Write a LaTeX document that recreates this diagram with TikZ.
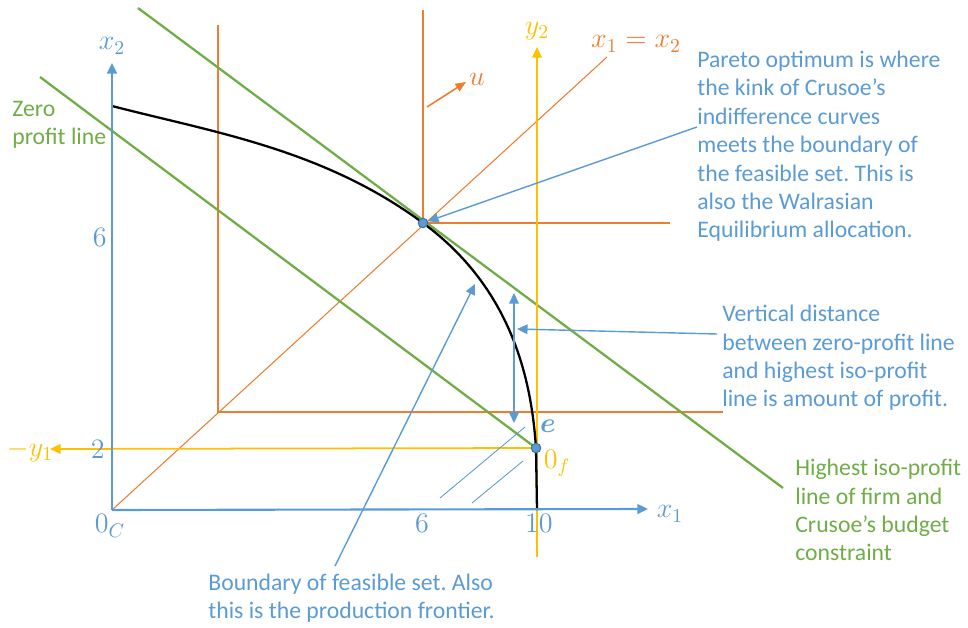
\RequirePackage{fix-cm}
\documentclass[tikz,border=0pt]{standalone}
\usepackage{amsmath}
\usepackage{fontspec}
\setmainfont{Carlito}
\usetikzlibrary{arrows.meta}
\definecolor{cblue}{HTML}{5B9BD5}
\definecolor{cbluedark}{HTML}{41719C}
\definecolor{corange}{HTML}{ED7D31}
\definecolor{cgreen}{HTML}{70AD47}
\definecolor{cyellow}{HTML}{FFC000}
\frenchspacing
\tikzset{
  axis/.style={cblue, line width=1.2pt, -{Triangle[width=5.5pt,length=6pt]}},
  yaxis/.style={cyellow, line width=1pt, -{Triangle[width=5.5pt,length=6pt]}},
  oline/.style={corange, line width=1.5pt},
  othin/.style={corange, line width=0.6pt},
  gline/.style={cgreen, line width=1.3pt},
  annot/.style={cblue, line width=0.8pt, -{Triangle[width=5.5pt,length=6pt]}},
  hatch/.style={cblue, line width=0.5pt},
  dot/.style={circle, fill=cblue, draw=cbluedark, line width=0.6pt, minimum size=5.4pt, inner sep=0pt},
  txt/.style={inner sep=0pt, anchor=base west, align=left, font=\fontsize{13.5}{16.2}\selectfont\frenchspacing},
  lbl/.style={inner sep=0pt, font=\fontsize{16}{19}\selectfont}
}
\begin{document}
\begin{tikzpicture}[x=0.02cm,y=-0.02cm]
\useasboundingbox (0,0) rectangle (968,628);
% key coordinates
\coordinate (O) at (112,510);
\coordinate (x2tip) at (112,63);
\coordinate (x1tip) at (648,509);
\coordinate (P) at (423,223);
\coordinate (E) at (536,448);
\coordinate (y2bot) at (537,557);
\coordinate (y2tip) at (537,47);
\coordinate (y1tip) at (50,449);
% orange indifference curves
\coordinate (oa1) at (218,25);
\coordinate (oa2) at (218,412);
\coordinate (oa3) at (723,412);
\coordinate (ob1) at (423,10);
\coordinate (ob3) at (670,223);
\draw[oline] (oa1) -- (oa2) -- (oa3);
\draw[oline] (ob1) -- (P) -- (ob3);
\coordinate (diagend) at (607,57);
\draw[othin] (O) -- (diagend);
\coordinate (ua) at (427,107);
\coordinate (ub) at (466,82);
\draw[corange, line width=0.9pt, -{Triangle[width=5pt,length=6pt]}] (ua) -- (ub);
% green lines
\coordinate (ga) at (138,8);
\coordinate (gb) at (783,488);
\coordinate (za) at (40,77);
\draw[gline] (ga) -- (gb);
\draw[gline] (za) -- (E);
% yellow firm axes
\draw[yaxis] (y2bot) -- (y2tip);
\draw[yaxis] (E) -- (y1tip);
% production frontier
\coordinate (fs) at (112,106);
\coordinate (fb) at (537,510);
\draw[black, line width=1.3pt] (fs) .. controls (212,132) and (323,149) .. (P)
   .. controls (517,292) and (532,390) .. (E) -- (fb);
% consumer axes
\draw[axis] (O) -- (x2tip);
\draw[axis] (O) -- (x1tip);
% hatch lines
\coordinate (h1a) at (440,498);
\coordinate (h1b) at (525,427);
\coordinate (h2a) at (472,503);
\coordinate (h2b) at (523,461);
\draw[hatch] (h1a) -- (h1b);
\draw[hatch] (h2a) -- (h2b);
% dots
\node[dot] (Pdot) at (P) {};
\node[dot] (Edot) at (E) {};
% annotation arrows
\coordinate (parstart) at (697,127);
\draw[annot] (parstart) -- (Pdot);
\coordinate (vda) at (514,293);
\coordinate (vdb) at (514,423);
\draw[cblue, line width=0.8pt, {Triangle[width=5.5pt,length=6pt]}-{Triangle[width=5.5pt,length=6pt]}] (vda) -- (vdb);
\coordinate (vstart) at (717,334);
\coordinate (vtip) at (517,329);
\draw[annot] (vstart) -- (vtip);
\coordinate (bstart) at (335,566);
\coordinate (btip) at (475,284);
\draw[annot] (bstart) -- (btip);
% axis labels
\node[lbl, text=cblue] (lx2) at (112,46) {$x_2$};
\node[lbl, text=cblue] (lx1) at (670,514) {$x_1$};
\node[lbl, text=cyellow] (ly2) at (537,31) {$y_2$};
\node[lbl, text=corange] (ldiag) at (636,44) {$x_1=x_2$};
\node[lbl, text=corange] (lu) at (477,79) {$u$};
\node[lbl, text=cyellow] (ly1) at (30,451) {$-y_1$};
\node[lbl, text=cblue, anchor=east] (t2) at (105,449) {$2$};
\node[lbl, text=cblue, anchor=east] (t6v) at (107,237) {$6$};
\node[lbl, text=cblue] (t6h) at (422,523) {$6$};
\node[lbl, text=cblue] (t10) at (539,523) {$10$};
\node[lbl, text=cblue] (t0c) at (110,526) {$0_C$};
\node[lbl, text=cblue] (le) at (548,426) {$\boldsymbol{e}$};
\node[lbl, text=cyellow] (l0f) at (557,463) {$0_f$};
% text blocks (anchor at baseline of last line)
\node[txt, text=cblue] (tpar) at (697,238) {Pareto optimum is where\\the kink of Crusoe’s\\indifference curves\\meets the boundary of\\the feasible set. This is\\also the Walrasian\\Equilibrium allocation.};
\node[txt, text=cblue] (tvd) at (722,407) {Vertical distance\\between zero-profit line\\and highest iso-profit\\line is amount of profit.};
\node[txt, text=cgreen] (thi) at (795,561) {Highest iso-profit\\line of firm and\\Crusoe’s budget\\constraint};
\node[txt, text=cblue] (tbd) at (208,619) {Boundary of feasible set. Also\\this is the production frontier.};
\node[txt, text=cgreen] (tzp) at (12,145) {Zero\\profit line};
\end{tikzpicture}
\end{document}
